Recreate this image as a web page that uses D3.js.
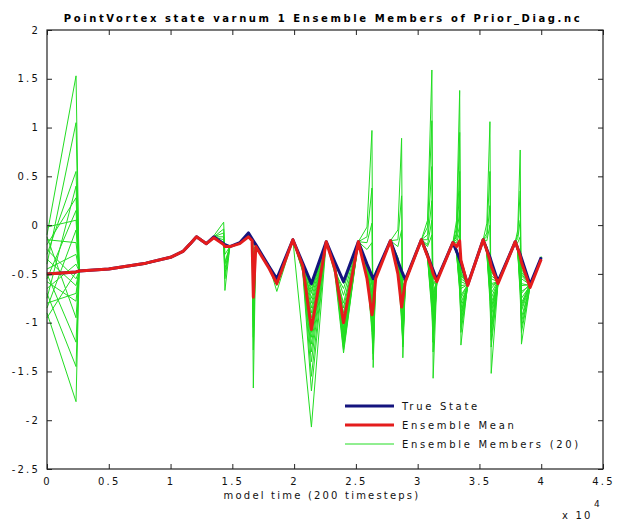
<!DOCTYPE html>
<html>
<head>
<meta charset="utf-8">
<script src="https://cdn.jsdelivr.net/npm/d3@7"></script>
<style>
  body { margin: 0; background: #fff; }
  text { font-family: "DejaVu Sans", sans-serif; }
</style>
</head>
<body>
<svg id="chart" width="618" height="521"></svg>
<script>
// Model time (timesteps) shared by every series
const times = [0, 2350, 2600, 5000, 8000, 10000, 11000, 11600, 12100, 12900,
  13500, 14300, 14400, 14800, 15600, 16300, 16600, 16700, 16900, 18000,
  18600, 19900, 20700, 21400, 22600, 23300, 24000, 25200, 25900, 26300,
  26400, 26600, 27800, 28400, 28700, 28800, 29000, 30300, 30800, 31150,
  31250, 31550, 32850, 33150, 33400, 33500, 34050, 35300, 35600, 35850,
  35950, 36500, 37900, 38100, 38300, 38400, 39100, 40000];

const trueState = [-0.50, -0.48, -0.47, -0.45, -0.39, -0.33, -0.27, -0.19, -0.12, -0.19,
  -0.12, -0.19, -0.20, -0.22, -0.18, -0.08, -0.14, -0.16, -0.20, -0.43,
  -0.55, -0.15, -0.39, -0.60, -0.17, -0.38, -0.58, -0.17, -0.40, -0.52,
  -0.55, -0.50, -0.16, -0.37, -0.47, -0.50, -0.56, -0.15, -0.31, -0.43,
  -0.46, -0.56, -0.18, -0.27, -0.35, -0.38, -0.61, -0.15, -0.25, -0.33,
  -0.37, -0.58, -0.17, -0.24, -0.30, -0.34, -0.61, -0.33];

const ensembleMean = [-0.50, -0.48, -0.47, -0.45, -0.39, -0.33, -0.27, -0.19, -0.12, -0.19,
  -0.13, -0.20, -0.22, -0.22, -0.19, -0.12, -0.16, -0.74, -0.22, -0.45,
  -0.60, -0.15, -0.42, -1.07, -0.17, -0.45, -1.00, -0.17, -0.55, -0.92,
  -0.85, -0.55, -0.16, -0.50, -0.84, -0.75, -0.58, -0.15, -0.32, -0.45,
  -0.50, -0.58, -0.18, -0.22, -0.16, -0.36, -0.62, -0.15, -0.26, -0.36,
  -0.42, -0.60, -0.17, -0.24, -0.32, -0.38, -0.64, -0.35];

// The 20 ensemble members
const members = [
  [-0.10, 1.53, -0.47, -0.45, -0.39, -0.33, -0.27, -0.19, -0.12, -0.19, -0.11, 0.03, -0.30, -0.22, -0.18, -0.10, -0.14, -0.65, -0.21, -0.44, -0.58, -0.15, -0.42, -0.95, -0.17, -0.40, -1.15, -0.17, -0.42, -0.60, -0.75, -0.50, -0.16, -0.36, -0.55, -0.62, -0.56, -0.15, 0.05, 1.59, -1.57, -0.58, -0.18, -0.26, -0.40, -0.48, -0.61, -0.15, -0.25, -0.45, -0.60, -0.58, -0.17, -0.24, -0.40, -0.52, -0.61, -0.33],
  [-0.40, 1.05, -0.47, -0.45, -0.40, -0.33, -0.27, -0.19, -0.12, -0.19, -0.12, -0.19, -0.21, -0.22, -0.18, -0.10, -0.14, -1.05, -0.21, -0.42, -0.60, -0.15, -0.45, -1.55, -0.17, -0.40, -0.98, -0.17, -0.18, 0.02, -1.05, -0.52, -0.16, -0.38, -0.90, -1.18, -0.57, -0.15, -0.30, -0.55, -0.70, -0.56, -0.18, -0.27, -0.55, -0.80, -0.62, -0.15, -0.26, -0.62, -0.90, -0.59, -0.17, -0.05, 0.77, -1.22, -0.62, -0.34],
  [-0.30, 0.55, -0.47, -0.45, -0.39, -0.33, -0.27, -0.19, -0.12, -0.19, -0.12, -0.19, -0.50, -0.22, -0.18, -0.10, -0.14, -0.50, -0.21, -0.43, -0.56, -0.15, -0.40, -1.22, -0.17, -0.44, -1.28, -0.17, -0.45, -0.95, -1.25, -0.49, -0.16, -0.35, -0.68, -0.80, -0.55, -0.15, -0.33, -0.80, -1.05, -0.57, -0.18, 0.05, 1.38, -1.23, -0.60, -0.15, -0.23, -0.40, -0.48, -0.57, -0.17, -0.26, -0.55, -0.80, -0.60, -0.33],
  [-0.75, 0.40, -0.47, -0.45, -0.39, -0.33, -0.27, -0.19, -0.12, -0.19, -0.12, -0.20, -0.21, -0.22, -0.18, -0.10, -0.14, -1.67, -0.21, -0.44, -0.62, -0.15, -0.47, -0.70, -0.17, -0.39, -0.95, -0.17, -0.43, -0.70, -0.90, -0.50, -0.16, -0.15, 0.30, -1.15, -0.58, -0.15, -0.29, -0.48, -0.55, -0.55, -0.18, -0.25, -0.38, -0.45, -0.60, -0.15, -0.12, 0.20, -1.05, -0.60, -0.17, -0.23, -0.38, -0.45, -0.61, -0.32],
  [-0.20, 0.28, -0.47, -0.45, -0.39, -0.33, -0.27, -0.19, -0.12, -0.19, -0.12, -0.04, -0.45, -0.22, -0.18, -0.10, -0.14, -0.25, -0.21, -0.42, -0.57, -0.15, -0.41, -0.85, -0.17, -0.46, -1.20, -0.17, -0.46, -1.05, -1.32, -0.51, -0.16, -0.37, -0.75, -0.98, -0.57, -0.15, -0.31, -0.62, -0.85, -0.56, -0.18, -0.12, 0.15, -0.62, -0.61, -0.15, -0.28, -0.70, -1.05, -0.58, -0.17, -0.24, -0.45, -0.60, -0.62, -0.33],
  [-0.55, 0.15, -0.47, -0.45, -0.39, -0.33, -0.27, -0.19, -0.12, -0.19, -0.12, -0.19, -0.20, -0.22, -0.18, -0.10, -0.14, -0.70, -0.21, -0.43, -0.59, -0.15, -1.17, -2.07, -0.17, -0.42, -0.85, -0.17, -0.41, -0.55, -0.60, -0.48, -0.16, -0.40, -1.00, -1.25, -0.60, -0.15, -0.28, -0.50, -0.60, -0.55, -0.18, -0.18, -0.08, -1.10, -0.63, -0.15, -0.25, -0.50, -0.65, -0.57, -0.17, -0.27, -0.68, -1.05, -0.63, -0.33],
  [-0.02, 0.05, -0.47, -0.45, -0.39, -0.33, -0.27, -0.19, -0.12, -0.19, -0.12, -0.19, -0.21, -0.22, -0.18, -0.10, -0.14, -0.98, -0.21, -0.43, -0.55, -0.15, -0.39, -0.60, -0.17, -0.45, -1.10, -0.17, -0.44, -0.85, -1.10, -0.50, -0.16, -0.34, -0.52, -0.58, -0.55, -0.15, -0.02, 1.07, -1.30, -0.57, -0.18, -0.29, -0.62, -0.92, -0.61, -0.15, -0.22, -0.38, -0.45, -0.56, -0.17, -0.18, -0.12, -0.70, -0.60, -0.33],
  [-0.85, -0.05, -0.47, -0.45, -0.39, -0.33, -0.27, -0.19, -0.12, -0.19, -0.12, -0.19, -0.21, -0.22, -0.18, -0.10, -0.14, -0.40, -0.21, -0.44, -0.58, -0.15, -0.43, -1.10, -0.17, -0.38, -0.60, -0.17, -0.02, 0.97, -1.46, -0.52, -0.16, -0.39, -0.82, -1.05, -0.58, -0.15, -0.32, -0.75, -1.00, -0.58, -0.18, -0.26, -0.45, -0.58, -0.61, -0.15, -0.29, -0.78, -1.18, -0.60, -0.17, -0.25, -0.42, -0.50, -0.61, -0.33],
  [-0.15, -0.18, -0.47, -0.45, -0.39, -0.33, -0.27, -0.19, -0.12, -0.19, -0.12, -0.08, -0.67, -0.22, -0.18, -0.10, -0.14, -0.80, -0.21, -0.42, -0.68, -0.15, -0.40, -0.68, -0.17, -0.43, -1.25, -0.17, -0.42, -0.75, -1.00, -0.49, -0.16, -0.36, -0.60, -0.72, -0.56, -0.15, -0.34, -0.90, -1.20, -0.58, -0.18, -0.02, 0.95, -1.05, -0.62, -0.15, -0.26, -0.55, -0.75, -0.58, -0.17, -0.26, -0.60, -0.88, -0.62, -0.33],
  [-0.45, -0.30, -0.47, -0.45, -0.39, -0.33, -0.27, -0.19, -0.12, -0.19, -0.12, -0.19, -0.21, -0.22, -0.18, -0.10, -0.14, -0.55, -0.21, -0.44, -0.57, -0.15, -0.46, -1.30, -0.17, -0.41, -1.05, -0.17, -0.40, -0.62, -0.70, -0.50, -0.16, -0.22, -0.05, -0.95, -0.57, -0.15, -0.30, -0.58, -0.75, -0.56, -0.18, -0.28, -0.50, -0.72, -0.61, -0.15, 0.02, 1.06, -1.52, -0.60, -0.17, -0.22, -0.36, -0.42, -0.60, -0.33],
  [-0.65, -0.40, -0.47, -0.45, -0.39, -0.33, -0.27, -0.19, -0.12, -0.19, -0.12, -0.19, -0.21, -0.22, -0.18, -0.10, -0.14, -1.28, -0.21, -0.43, -0.60, -0.15, -0.38, -0.80, -0.17, -0.47, -0.80, -0.17, -0.48, -1.10, -1.38, -0.53, -0.16, -0.41, -0.95, -1.20, -0.59, -0.15, -0.22, -0.10, -1.20, -0.57, -0.18, -0.24, -0.36, -0.42, -0.60, -0.15, -0.16, 0.00, -0.85, -0.59, -0.17, -0.27, -0.72, -1.10, -0.63, -0.34],
  [-0.95, -0.48, -0.47, -0.45, -0.39, -0.33, -0.27, -0.19, -0.12, -0.19, -0.12, -0.19, -0.21, -0.22, -0.18, -0.10, -0.14, -0.30, -0.21, -0.42, -0.58, -0.15, -0.44, -1.05, -0.17, -0.40, -1.22, -0.17, -0.45, -0.80, -0.95, -0.50, -0.16, -0.35, -0.58, -0.66, -0.56, -0.15, -0.10, 0.60, -1.10, -0.57, -0.18, -0.29, -0.68, -1.00, -0.62, -0.15, -0.23, -0.42, -0.52, -0.57, -0.17, -0.10, 0.35, -1.00, -0.61, -0.33],
  [-0.25, -0.55, -0.47, -0.45, -0.39, -0.33, -0.27, -0.19, -0.12, -0.19, -0.12, -0.12, -0.55, -0.22, -0.18, -0.10, -0.14, -0.75, -0.21, -0.43, -0.56, -0.15, -0.42, -0.65, -0.17, -0.44, -0.72, -0.17, -0.12, 0.38, -1.20, -0.51, -0.16, -0.38, -0.70, -0.88, -0.57, -0.15, -0.29, -0.52, -0.62, -0.55, -0.18, -0.25, -0.42, -0.52, -0.60, -0.15, -0.28, -0.65, -0.95, -0.59, -0.17, -0.24, -0.48, -0.62, -0.61, -0.33],
  [-0.35, -0.62, -0.47, -0.45, -0.39, -0.33, -0.27, -0.19, -0.12, -0.19, -0.12, -0.19, -0.21, -0.22, -0.18, -0.10, -0.14, -0.35, -0.21, -0.44, -0.61, -0.15, -0.48, -1.70, -0.17, -0.39, -1.12, -0.17, -0.41, -0.58, -0.65, -0.49, -0.16, -0.40, -0.85, -1.10, -0.58, -0.15, -0.31, -0.68, -0.90, -0.58, -0.18, -0.08, 0.55, -0.90, -0.62, -0.15, -0.25, -0.48, -0.62, -0.58, -0.17, -0.25, -0.52, -0.75, -0.62, -0.33],
  [-0.80, -0.70, -0.47, -0.45, -0.39, -0.33, -0.27, -0.19, -0.12, -0.19, -0.12, -0.19, -0.21, -0.22, -0.18, -0.10, -0.14, -0.92, -0.21, -0.42, -0.59, -0.15, -0.41, -0.75, -0.17, -0.42, -1.00, -0.17, -0.44, -0.90, -1.15, -0.50, -0.16, -0.05, 0.89, -1.36, -0.59, -0.15, -0.28, -0.47, -0.52, -0.55, -0.18, -0.27, -0.58, -0.85, -0.61, -0.15, -0.29, -0.72, -1.10, -0.60, -0.17, -0.23, -0.40, -0.48, -0.60, -0.33],
  [-0.58, -0.78, -0.47, -0.45, -0.39, -0.33, -0.27, -0.19, -0.12, -0.19, -0.12, -0.19, -0.40, -0.22, -0.18, -0.10, -0.14, -0.60, -0.21, -0.43, -0.57, -0.15, -0.45, -1.15, -0.17, -0.48, -0.65, -0.17, -0.43, -0.68, -0.85, -0.50, -0.16, -0.37, -0.62, -0.75, -0.56, -0.15, -0.15, 0.25, -0.95, -0.56, -0.18, -0.25, -0.40, -0.50, -0.60, -0.15, -0.08, 0.55, -1.25, -0.60, -0.17, -0.26, -0.58, -0.82, -0.62, -0.33],
  [-0.12, -0.95, -0.47, -0.45, -0.39, -0.33, -0.27, -0.19, -0.12, -0.19, -0.12, -0.15, -0.38, -0.22, -0.18, -0.10, -0.14, -0.20, -0.21, -0.44, -0.56, -0.15, -0.43, -0.90, -0.17, -0.50, -1.31, -0.17, -0.47, -1.00, -1.28, -0.52, -0.16, -0.33, -0.50, -0.56, -0.55, -0.15, -0.33, -0.85, -1.12, -0.58, -0.18, -0.15, 0.00, -0.55, -0.60, -0.15, -0.26, -0.52, -0.70, -0.57, -0.17, -0.25, -0.44, -0.55, -0.61, -0.33],
  [-0.50, -1.20, -0.47, -0.45, -0.39, -0.33, -0.27, -0.19, -0.12, -0.19, -0.12, -0.19, -0.21, -0.22, -0.18, -0.10, -0.14, -1.15, -0.21, -0.42, -0.58, -0.15, -0.39, -0.62, -0.17, -0.45, -0.90, -0.17, -0.40, -0.57, -0.62, -0.49, -0.16, -0.39, -0.78, -0.95, -0.58, -0.15, -0.20, 0.05, -0.80, -0.56, -0.18, -0.28, -0.48, -0.65, -0.61, -0.15, -0.27, -0.60, -0.85, -0.59, -0.17, -0.14, 0.05, -0.85, -0.60, -0.33],
  [-0.70, -1.45, -0.47, -0.45, -0.39, -0.33, -0.27, -0.19, -0.12, -0.19, -0.12, -0.19, -0.21, -0.22, -0.18, -0.10, -0.14, -0.45, -0.21, -0.43, -0.60, -0.15, -0.44, -1.40, -0.17, -0.41, -1.18, -0.17, -0.25, -0.18, -0.95, -0.51, -0.16, -0.36, -0.65, -0.85, -0.57, -0.15, -0.30, -0.60, -0.72, -0.57, -0.18, -0.29, -0.65, -0.95, -0.62, -0.15, -0.23, -0.44, -0.55, -0.58, -0.17, -0.27, -0.62, -0.95, -0.62, -0.33],
  [-0.90, -1.81, -0.47, -0.45, -0.39, -0.33, -0.27, -0.19, -0.12, -0.19, -0.12, -0.19, -0.21, -0.22, -0.18, -0.10, -0.14, -0.85, -0.21, -0.44, -0.59, -0.15, -0.42, -1.00, -0.17, -0.43, -1.08, -0.17, -0.46, -0.78, -1.02, -0.50, -0.16, -0.42, -0.92, -1.22, -0.59, -0.15, -0.32, -0.72, -0.95, -0.57, -0.18, -0.10, 0.35, -0.75, -0.61, -0.15, -0.27, -0.58, -0.80, -0.59, -0.17, -0.24, -0.50, -0.68, -0.62, -0.33]
];

const xTicks = [0, 5000, 10000, 15000, 20000, 25000, 30000, 35000, 40000, 45000];
const xTickLabels = ["0", "0.5", "1", "1.5", "2", "2.5", "3", "3.5", "4", "4.5"];
const yTicks = [2, 1.5, 1, 0.5, 0, -0.5, -1, -1.5, -2, -2.5];
const legendLabels = ["True State", "Ensemble Mean", "Ensemble Members (20)"];
const seriesColors = ["#14147e", "#e41c1c", "#22dd22"];

const svg = d3.select("#chart");
const plot = { left: 47, right: 603, top: 30, bottom: 469 };

const x = d3.scaleLinear().domain([0, 45000]).range([plot.left, plot.right]);
const y = d3.scaleLinear().domain([-2.5, 2]).range([plot.bottom, plot.top]);

const line = d3.line()
  .x(d => x(d[0]))
  .y(d => y(d[1]));
const pairs = vals => vals.map((v, i) => [times[i], v]).filter(p => p[0] !== undefined);

// Ensemble members (thin green)
svg.append("g").selectAll("path").data(members).join("path")
  .attr("d", m => line(pairs(m)))
  .attr("fill", "none")
  .attr("stroke", seriesColors[2])
  .attr("stroke-width", 1);

// True state and ensemble mean
svg.append("path").attr("d", line(pairs(trueState)))
  .attr("fill", "none").attr("stroke", seriesColors[0]).attr("stroke-width", 3)
  .attr("stroke-linejoin", "round");
svg.append("path").attr("d", line(pairs(ensembleMean)))
  .attr("fill", "none").attr("stroke", seriesColors[1]).attr("stroke-width", 3)
  .attr("stroke-linejoin", "round");

// Axes: ticks point inward on all four sides
const tickFont = g => g.selectAll("text")
  .attr("font-size", 10).attr("fill", "#111")
  .style("letter-spacing", "2.2px");

svg.append("g").attr("transform", `translate(0,${plot.bottom})`)
  .call(d3.axisBottom(x).tickValues(xTicks).tickFormat((d, i) => xTickLabels[i])
    .tickSizeInner(-5).tickSizeOuter(0).tickPadding(9))
  .call(g => g.select(".domain").remove())
  .call(tickFont);
svg.append("g").attr("transform", `translate(0,${plot.top})`)
  .call(d3.axisTop(x).tickValues(xTicks).tickFormat("").tickSizeInner(-5).tickSizeOuter(0))
  .call(g => g.select(".domain").remove());
svg.append("g").attr("transform", `translate(${plot.left},0)`)
  .call(d3.axisLeft(y).tickValues(yTicks).tickFormat(d => String(d))
    .tickSizeInner(-5).tickSizeOuter(0).tickPadding(7))
  .call(g => g.select(".domain").remove())
  .call(tickFont);
svg.append("g").attr("transform", `translate(${plot.right},0)`)
  .call(d3.axisRight(y).tickValues(yTicks).tickFormat("").tickSizeInner(-5).tickSizeOuter(0))
  .call(g => g.select(".domain").remove());
svg.selectAll(".tick line").attr("stroke", "#222");

svg.append("rect")
  .attr("x", plot.left).attr("y", plot.top)
  .attr("width", plot.right - plot.left).attr("height", plot.bottom - plot.top)
  .attr("fill", "none").attr("stroke", "#222").attr("stroke-width", 1.2);

// Title and labels
svg.append("text").attr("x", 323).attr("y", 22).attr("text-anchor", "middle")
  .attr("font-size", 10).attr("font-weight", "bold").style("letter-spacing", "2.6px")
  .text("PointVortex state varnum 1 Ensemble Members of Prior_Diag.nc");
svg.append("text").attr("x", 322).attr("y", 499).attr("text-anchor", "middle")
  .attr("font-size", 10).style("letter-spacing", "2.2px").attr("fill", "#111")
  .text("model time (200 timesteps)");
svg.append("text").attr("x", 562).attr("y", 519)
  .attr("font-size", 10).style("letter-spacing", "2.2px").attr("fill", "#111")
  .text("x 10");
svg.append("text").attr("x", 594).attr("y", 507)
  .attr("font-size", 9).attr("fill", "#111")
  .text("4");

// Legend
const legendY = [406, 425, 444];
const legend = svg.append("g");
legendLabels.forEach((lab, i) => {
  legend.append("line")
    .attr("x1", 345).attr("x2", 394).attr("y1", legendY[i]).attr("y2", legendY[i])
    .attr("stroke", seriesColors[i]).attr("stroke-width", i < 2 ? 3 : 1);
  legend.append("text").attr("x", 402).attr("y", legendY[i] + 4)
    .attr("font-size", 10).style("letter-spacing", "2.7px").attr("fill", "#111")
    .text(lab);
});
</script>
</body>
</html>
